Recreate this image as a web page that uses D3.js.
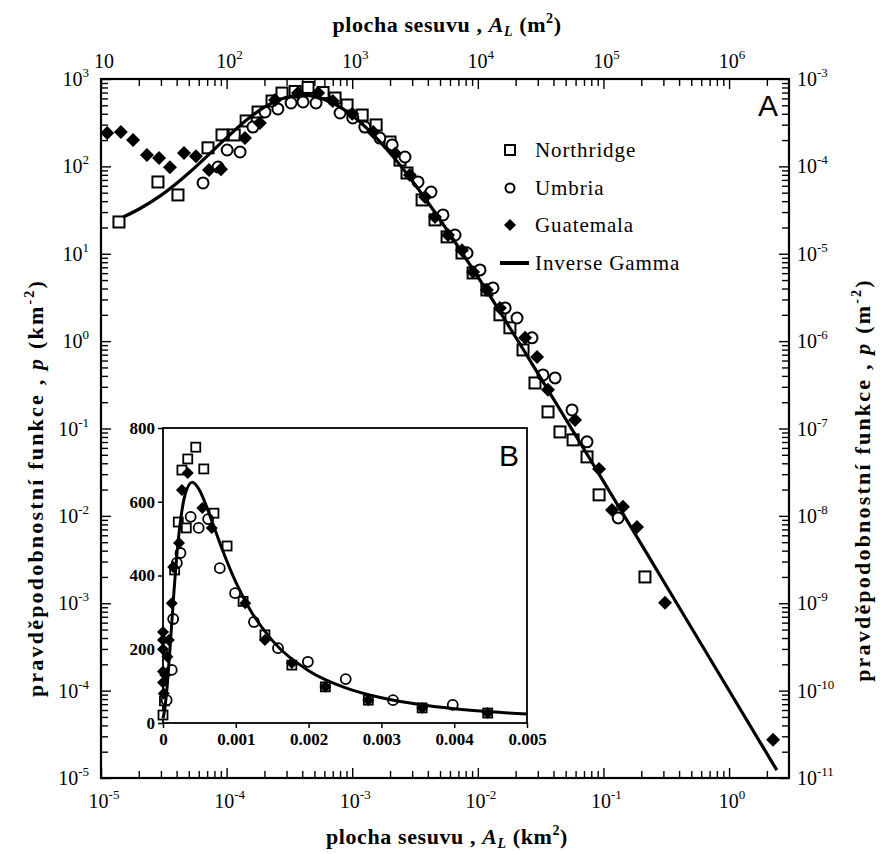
<!DOCTYPE html>
<html><head><meta charset="utf-8">
<script src="https://cdn.jsdelivr.net/npm/d3@7"></script>
<style>body{margin:0;background:#fff}svg{display:block}</style>
</head><body>
<script>
// ---------- DATA (A in km^2, p in km^-2) ----------
const northridgeMain = [[1.39e-5,23.1],[2.84e-5,66.3],[4.10e-5,47.1],[7.11e-5,163],[9.19e-5,229],[1.15e-4,229],[1.43e-4,331],[1.78e-4,419],[2.30e-4,560],[2.76e-4,690],[3.51e-4,720],[4.45e-4,800],[5.86e-4,700],[7.30e-4,606],[9.10e-4,504],[1.20e-3,387],[1.55e-3,298],[2.0e-3,190],[2.40e-3,118],[2.73e-3,84],[3.60e-3,41.3],[4.56e-3,24.4],[5.69e-3,15.6],[7.48e-3,10.2],[9.17e-3,6.03],[1.18e-2,3.85],[1.50e-2,2.0],[1.80e-2,1.42],[2.29e-2,0.793],[2.85e-2,0.332],[3.62e-2,0.155],[4.51e-2,0.0914],[5.73e-2,0.0741],[7.40e-2,0.0473],[9.23e-2,0.0174],[0.214,0.0020]];
const umbriaMain = [[6.49e-5,64.6],[8.55e-5,98.4],[1.01e-4,154],[1.28e-4,146],[1.62e-4,282],[2.02e-4,419],[2.56e-4,454],[3.26e-4,531],[4.06e-4,546],[5.15e-4,531],[8.0e-4,408],[1.01e-3,358],[1.26e-3,282],[1.66e-3,211],[2.08e-3,176],[2.63e-3,128],[3.34e-3,66.3],[4.24e-3,50.9],[5.28e-3,27.8],[6.58e-3,16.4],[8.20e-3,10.2],[1.04e-2,6.53],[1.32e-2,4.06],[1.65e-2,2.40],[2.05e-2,1.84],[2.70e-2,1.09],[3.30e-2,0.410],[4.12e-2,0.379],[5.62e-2,0.163],[7.40e-2,0.0703],[0.131,0.00948]];
const guatemalaMain = [[1.12e-5,241],[1.44e-5,248],[1.80e-5,200],[2.32e-5,135],[2.90e-5,125],[3.54e-5,98],[4.58e-5,142],[5.70e-5,131],[7.24e-5,91],[9.02e-5,93],[1.40e-4,211],[1.84e-4,314],[2.43e-4,575],[3.70e-4,692],[5.35e-4,692],[7.0e-4,560],[1.0e-3,400],[1.47e-3,248],[2.2e-3,140],[2.88e-3,79.7],[3.80e-3,44.7],[4.56e-3,26.4],[5.79e-3,16.4],[7.48e-3,11.0],[9.16e-3,6.19],[1.18e-2,3.85],[1.50e-2,2.40],[2.38e-2,1.09],[2.96e-2,0.659],[3.62e-2,0.277],[5.94e-2,0.125],[9.23e-2,0.0345],[0.117,0.0117],[0.143,0.0127],[0.185,0.00748],[0.309,0.00101],[2.24,2.74e-5]];
const gammaMain = [[1.5e-5,26.3],[2e-5,32.3],[3e-5,46.5],[5e-5,83.9],[7e-5,131],[1e-4,213],[1.5e-4,355],[2e-4,476],[3e-4,617],[4e-4,653],[5e-4,632],[7e-4,532],[1e-3,382],[1.5e-3,224],[2e-3,142],[3e-3,68.4],[5e-3,24.5],[1e-2,5.42],[3e-2,0.431],[0.1,0.02485],[0.3,0.001798],[1,1.0035e-4],[2.4,1.229e-5]];

const northridgeInset = [[0,21.7],[2e-5,60],[1.6e-4,415],[2.1e-4,545],[2.6e-4,686],[3.2e-4,529],[3.4e-4,716],[4.5e-4,748],[5.6e-4,689],[7.0e-4,569],[8.8e-4,480],[1.1e-3,330],[1.4e-3,239],[1.77e-3,157],[2.23e-3,98],[2.82e-3,62],[3.56e-3,41],[4.46e-3,27]];
const umbriaInset = [[5e-5,62],[1.2e-4,144],[1.4e-4,282],[1.9e-4,434],[2.4e-4,461],[3.8e-4,559],[4.9e-4,529],[6.2e-4,553],[7.8e-4,420],[9.9e-4,352],[1.25e-3,274],[1.58e-3,203],[1.99e-3,166],[2.51e-3,119],[3.16e-3,62],[3.98e-3,49]];
const guatemalaInset = [[0,247],[0,225],[0,200],[0,140],[0,110],[1e-5,80],[3e-5,130],[6e-5,180],[8e-5,225],[1.2e-4,325],[1.4e-4,423],[2.2e-4,488],[2.6e-4,632],[3.4e-4,678],[5.4e-4,583],[6.7e-4,529],[1.13e-3,325],[1.4e-3,225],[1.77e-3,163],[2.23e-3,98],[2.82e-3,62],[3.56e-3,41],[4.46e-3,27]];
const gammaInset = [[0,12.6],[2e-5,32.3],[5e-5,83.9],[1e-4,213],[1.5e-4,355],[2e-4,476],[2.5e-4,562],[3e-4,617],[4e-4,653],[5e-4,632],[6e-4,586],[7e-4,532],[8e-4,478],[1e-3,382],[1.2e-3,306],[1.5e-3,224],[2e-3,142],[2.5e-3,96],[3e-3,68.4],[3.5e-3,50.7],[4e-3,38.8],[4.5e-3,30.5],[5e-3,24.5]];

const bottomExps = [-5,-4,-3,-2,-1,0];
const topExps = [1,2,3,4,5,6];
const leftExps = [3,2,1,0,-1,-2,-3,-4,-5];
const rightExps = [-3,-4,-5,-6,-7,-8,-9,-10,-11];
const insetXTicks = [0,0.001,0.002,0.003,0.004,0.005];
const insetXLabels = ["0","0.001","0.002","0.003","0.004","0.005"];
const insetYTicks = [0,200,400,600,800];
const legendItems = ["Northridge","Umbria","Guatemala","Inverse Gamma"];

// ---------- CHART ----------
const W=880, H=854;
const L=101, R=789, T=79, B=778;
const svg = d3.select("body").append("svg").attr("width",W).attr("height",H).style("background","#fff");
const SERIF = "'Liberation Serif','Times New Roman',serif";
const SANS = "'Liberation Sans',Arial,sans-serif";

const x = d3.scaleLog().domain([1e-5,3]).range([L,R]);
const y = d3.scaleLog().domain([1e-5,1e3]).range([B,T]);
const xTop = d3.scaleLog().domain([10,3e6]).range([L,R]);
const yRight = d3.scaleLog().domain([1e-11,1e-3]).range([B,T]);

function logTicks(scale){
  const [a,b] = scale.domain();
  const lo = Math.floor(Math.log10(a)), hi = Math.ceil(Math.log10(b));
  const major=[], minor=[];
  for(let e=lo;e<=hi;e++){
    const v = Math.pow(10,e);
    if(v>=a*0.999 && v<=b*1.001) major.push(v);
    for(let k=2;k<=9;k++){ const w=k*v; if(w>a*1.001 && w<b*0.999) minor.push(w); }
  }
  return {major,minor};
}
function drawTicks(axisFn, scale, transform){
  const t = logTicks(scale);
  [[t.major,10],[t.minor,7]].forEach(([vals,len])=>{
    const g = svg.append("g").attr("transform",transform)
      .call(axisFn(scale).tickValues(vals).tickSize(len).tickFormat(""));
    g.select(".domain").remove();
    g.selectAll("line").attr("stroke","#000").attr("stroke-width",1.4);
  });
}
drawTicks(d3.axisRight, y, `translate(${L},0)`);
drawTicks(d3.axisLeft, yRight, `translate(${R},0)`);
drawTicks(d3.axisBottom, xTop, `translate(0,${T})`);
drawTicks(d3.axisTop, x, `translate(0,${B})`);
svg.append("rect").attr("x",L).attr("y",T).attr("width",R-L).attr("height",B-T)
  .attr("fill","none").attr("stroke","#000").attr("stroke-width",2.2);

function powLabel(g, base, exp, px, py, anchor){
  const t = g.append("text").attr("x",px).attr("y",py).attr("text-anchor",anchor)
    .attr("font-family",SERIF).attr("font-size",20).attr("fill","#000");
  t.append("tspan").text(base);
  if(exp!==null){
    t.append("tspan").attr("font-size",13).attr("dy",-9).text(exp);
  }
  return t;
}
const lab = svg.append("g");
leftExps.forEach(e=> powLabel(lab,"10",String(e),89,y(Math.pow(10,e))+7,"end"));
rightExps.forEach(e=> powLabel(lab,"10",String(e),797,yRight(Math.pow(10,e))+7,"start"));
bottomExps.forEach(e=> powLabel(lab,"10",String(e),x(Math.pow(10,e))+3,808,"middle"));
topExps.forEach(e=> powLabel(lab,"10",e===1?null:String(e),xTop(Math.pow(10,e))+3,68,"middle"));

// axis titles
function title(px,py,rot,ls,parts){
  const t = svg.append("text").attr("text-anchor","middle")
    .attr("transform",`translate(${px},${py})${rot?" rotate(-90)":""}`)
    .attr("font-family",SERIF).attr("font-size",22).attr("font-weight","bold")
    .attr("letter-spacing",ls).attr("fill","#000");
  parts.forEach(p=>{
    const s = t.append("tspan").text(p.t);
    if(p.i) s.attr("font-style","italic");
    if(p.fs) s.attr("font-size",p.fs);
    if(p.dy) s.attr("dy",p.dy);
  });
}
title(447,32,false,0.6,[{t:"plocha sesuvu , "},{t:"A",i:1},{t:"L",i:1,fs:14,dy:4},{t:" (m",dy:-4},{t:"2",fs:14,dy:-9},{t:")",dy:9}]);
title(447,844,false,0.6,[{t:"plocha sesuvu , "},{t:"A",i:1},{t:"L",i:1,fs:14,dy:4},{t:" (km",dy:-4},{t:"2",fs:14,dy:-9},{t:")",dy:9}]);
title(43,488,true,2.2,[{t:"pravděpodobnostní funkce , "},{t:"p",i:1},{t:" (km"},{t:"-2",fs:14,dy:-9},{t:")",dy:9}]);
title(870,480,true,2.2,[{t:"pravděpodobnostní funkce , "},{t:"p",i:1},{t:" (m"},{t:"-2",fs:14,dy:-9},{t:")",dy:9}]);

// markers
function squares(g, data, sx, sy, s, sw){
  g.selectAll(null).data(data).enter().append("rect")
    .attr("x",d=>sx(d[0])-s/2).attr("y",d=>sy(d[1])-s/2).attr("width",s).attr("height",s)
    .attr("fill","#fff").attr("stroke","#000").attr("stroke-width",sw);
}
function circles(g, data, sx, sy, r, sw){
  g.selectAll(null).data(data).enter().append("circle")
    .attr("cx",d=>sx(d[0])).attr("cy",d=>sy(d[1])).attr("r",r)
    .attr("fill","#fff").attr("stroke","#000").attr("stroke-width",sw);
}
function diamonds(g, data, sx, sy, h){
  g.selectAll(null).data(data).enter().append("path")
    .attr("d",d=>{const cx=sx(d[0]),cy=sy(d[1]);return `M${cx},${cy-h}L${cx+h},${cy}L${cx},${cy+h}L${cx-h},${cy}Z`;})
    .attr("fill","#000");
}
const main = svg.append("g");
squares(main, northridgeMain, x, y, 11, 2);
circles(main, umbriaMain, x, y, 5.5, 2);
diamonds(main, guatemalaMain, x, y, 7);
main.append("path").datum(gammaMain)
  .attr("d", d3.line().x(d=>x(d[0])).y(d=>y(d[1])).curve(d3.curveMonotoneX))
  .attr("fill","none").attr("stroke","#000").attr("stroke-width",3.2);

// panel label
svg.append("text").attr("x",768).attr("y",116).attr("text-anchor","middle")
  .attr("font-family",SANS).attr("font-size",30).attr("fill","#000").text("A");

// legend
const lg = svg.append("g");
const lgY = [150,188,225,263];
lg.append("rect").attr("x",505).attr("y",lgY[0]-5).attr("width",10).attr("height",10).attr("fill","#fff").attr("stroke","#000").attr("stroke-width",2);
lg.append("circle").attr("cx",510).attr("cy",lgY[1]).attr("r",4.5).attr("fill","#fff").attr("stroke","#000").attr("stroke-width",2);
lg.append("path").attr("d",`M510,${lgY[2]-6}L516,${lgY[2]}L510,${lgY[2]+6}L504,${lgY[2]}Z`).attr("fill","#000");
lg.append("line").attr("x1",500).attr("x2",529).attr("y1",lgY[3]).attr("y2",lgY[3]).attr("stroke","#000").attr("stroke-width",4);
legendItems.forEach((s,i)=> lg.append("text").attr("x",535).attr("y",lgY[i]+7)
  .attr("font-family",SERIF).attr("font-size",21).attr("letter-spacing",0.9).attr("fill","#000").text(s));

// ---------- INSET ----------
const IL=163, IR=527, IT=428, IB=723;
const xi = d3.scaleLinear().domain([0,0.005]).range([IL,IR]);
const yi = d3.scaleLinear().domain([0,800]).range([IB,IT]);
svg.append("rect").attr("x",IL).attr("y",IT).attr("width",IR-IL).attr("height",IB-IT).attr("fill","#fff");
const gxi = svg.append("g").attr("transform",`translate(0,${IB})`)
  .call(d3.axisBottom(xi).tickValues(insetXTicks).tickSize(5).tickFormat((d,i)=>insetXLabels[i]));
const gyi = svg.append("g").attr("transform",`translate(${IL},0)`)
  .call(d3.axisLeft(yi).tickValues(insetYTicks).tickSize(5).tickFormat(d3.format("d")));
[gxi,gyi].forEach(g=>{
  g.select(".domain").remove();
  g.selectAll("line").attr("stroke","#000").attr("stroke-width",1.5);
  g.selectAll("text").attr("font-family",SERIF).attr("font-size",17).attr("font-weight","bold").attr("fill","#000");
});
gxi.selectAll("text").attr("dy","0.85em");
svg.append("rect").attr("x",IL).attr("y",IT).attr("width",IR-IL).attr("height",IB-IT)
  .attr("fill","none").attr("stroke","#000").attr("stroke-width",1.8);
const ins = svg.append("g");
squares(ins, northridgeInset, xi, yi, 9, 1.8);
circles(ins, umbriaInset, xi, yi, 5, 1.8);
diamonds(ins, guatemalaInset, xi, yi, 6);
ins.append("path").datum(gammaInset)
  .attr("d", d3.line().x(d=>xi(d[0])).y(d=>yi(d[1])).curve(d3.curveMonotoneX))
  .attr("fill","none").attr("stroke","#000").attr("stroke-width",3);
svg.append("text").attr("x",509).attr("y",466).attr("text-anchor","middle")
  .attr("font-family",SANS).attr("font-size",30).attr("fill","#000").text("B");
</script>
</body></html>
